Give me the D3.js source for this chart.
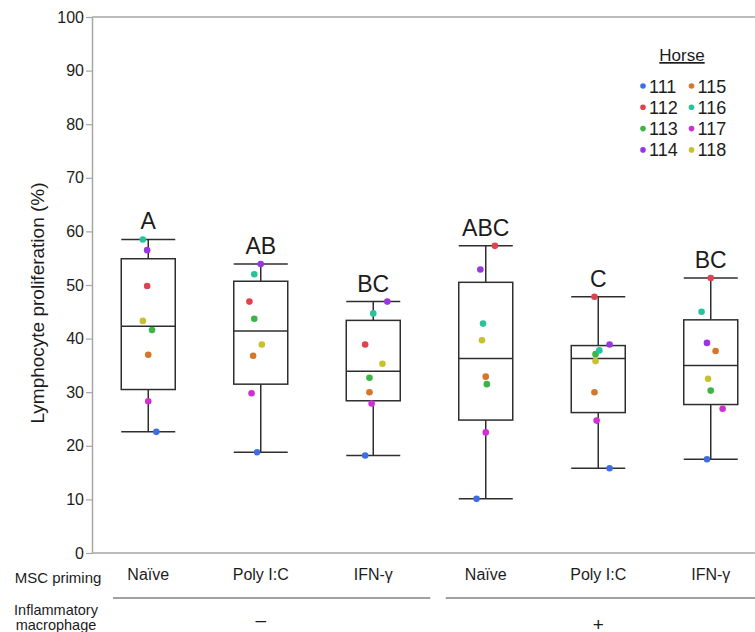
<!DOCTYPE html>
<html>
<head>
<meta charset="utf-8">
<script src="https://cdn.jsdelivr.net/npm/d3@7"></script>
<style>
  body { margin: 0; background: #fff; }
  svg { display: block; font-family: 'Liberation Sans', Arial, sans-serif; }
</style>
</head>
<body>
<div id="chart"></div>
<script>
// Data
const conditions = ['Naïve -', 'Poly I:C -', 'IFN-γ -', 'Naïve +', 'Poly I:C +', 'IFN-γ +']
const primingLabels = ['Naïve', 'Poly I:C', 'IFN-γ', 'Naïve', 'Poly I:C', 'IFN-γ']
const letters = ['A', 'AB', 'BC', 'ABC', 'C', 'BC']
const horses = ['111', '112', '113', '114', '115', '116', '117', '118']
const horseColors = ['#3e6fe2', '#e0434f', '#3db446', '#9a35e4', '#d5762b', '#27c39b', '#d12fd5', '#c8c12b']

// [min, q1, median, q3, max] per condition
const boxMin = [22.6, 18.8, 18.2, 10.1, 15.8, 17.5]
const boxQ1 = [30.5, 31.5, 28.4, 24.8, 26.2, 27.7]
const boxMedian = [42.3, 41.4, 33.9, 36.3, 36.3, 35.0]
const boxQ3 = [54.9, 50.7, 43.4, 50.5, 38.7, 43.5]
const boxMax = [58.5, 53.9, 46.9, 57.3, 47.8, 51.3]

// proliferation per horse (rows) for each condition (columns)
const horseValues = [
  [22.6, 18.8, 18.2, 10.1, 15.8, 17.5], // 111
  [49.8, 46.9, 38.9, 57.3, 47.8, 51.3], // 112
  [41.6, 43.7, 32.7, 31.5, 37.1, 30.3], // 113
  [56.5, 53.9, 46.9, 52.9, 38.9, 39.2], // 114
  [37.0, 36.8, 30.0, 32.9, 30.0, 37.7], // 115
  [58.5, 52.0, 44.7, 42.8, 37.8, 45.0], // 116
  [28.3, 29.8, 27.9, 22.5, 24.7, 26.9], // 117
  [43.3, 38.9, 35.3, 39.7, 35.8, 32.5]  // 118
]
// horizontal jitter as a fraction of box width
const jitter = [
  [0.15, -0.07, -0.15, -0.17, 0.21, -0.07],
  [-0.02, -0.21, -0.15, 0.17, -0.07, 0.0],
  [0.07, -0.12, -0.07, 0.02, -0.05, 0.0],
  [-0.02, 0.0, 0.26, -0.10, 0.21, -0.07],
  [0.0, -0.14, -0.07, 0.0, -0.07, 0.09],
  [-0.10, -0.12, 0.0, -0.05, 0.02, -0.17],
  [0.0, -0.17, -0.03, 0.0, -0.03, 0.22],
  [-0.10, 0.02, 0.17, -0.07, -0.05, -0.05]
]
const yTicks = [0, 10, 20, 30, 40, 50, 60, 70, 80, 90, 100]
const groups = [
  { label: '\u2013', members: [0, 1, 2] },
  { label: '+', members: [3, 4, 5] }
]

const width = 755
const height = 632
const plot = { left: 92, right: 767, top: 17, bottom: 553 }
const axisColor = '#a6a6a6'
const inkColor = '#1c1c1c'
const boxColor = '#2e2e2e'

const svg = d3.select('#chart')
  .append('svg')
    .attr('width', width)
    .attr('height', height)

const x = d3.scaleBand()
  .domain(conditions)
  .range([plot.left, plot.right])
  .paddingInner(0.52)
  .paddingOuter(0.26)

const y = d3.scaleLinear()
  .domain([0, 100])
  .range([plot.bottom, plot.top])

const bw = x.bandwidth()
const cx = i => x(conditions[i]) + bw / 2

// Frame lines (top + bottom), left axis
svg.append('line')
  .attr('x1', plot.left).attr('x2', plot.right)
  .attr('y1', plot.top).attr('y2', plot.top)
  .attr('stroke', axisColor).attr('stroke-width', 1.5)
svg.append('line')
  .attr('x1', plot.left).attr('x2', plot.right)
  .attr('y1', plot.bottom).attr('y2', plot.bottom)
  .attr('stroke', axisColor).attr('stroke-width', 1.5)

const yAxis = svg.append('g')
  .attr('transform', `translate(${plot.left},0)`)
  .call(d3.axisLeft(y).tickValues(yTicks).tickSize(6).tickPadding(2).tickSizeOuter(0))
yAxis.select('.domain').attr('stroke', axisColor).attr('stroke-width', 1.5)
yAxis.selectAll('.tick line').attr('stroke', axisColor).attr('stroke-width', 1.2)
yAxis.selectAll('.tick text')
  .attr('fill', inkColor)
  .attr('font-size', 16)
  .attr('font-family', "'Liberation Sans', Arial, sans-serif")

// Y title
svg.append('text')
  .attr('transform', `translate(44,${(plot.top + plot.bottom) / 2 + 18}) rotate(-90)`)
  .attr('text-anchor', 'middle')
  .attr('font-size', 19)
  .attr('fill', inkColor)
  .text('Lymphocyte proliferation (%)')

// Boxes
const boxes = svg.append('g')
conditions.forEach((c, i) => {
  const g = boxes.append('g')
  const left = x(c)
  const mid = cx(i)
  // whiskers
  g.append('line')
    .attr('x1', mid).attr('x2', mid)
    .attr('y1', y(boxMax[i])).attr('y2', y(boxQ3[i]))
    .attr('stroke', boxColor).attr('stroke-width', 1.5)
  g.append('line')
    .attr('x1', mid).attr('x2', mid)
    .attr('y1', y(boxQ1[i])).attr('y2', y(boxMin[i]))
    .attr('stroke', boxColor).attr('stroke-width', 1.5)
  // caps
  ;[boxMin[i], boxMax[i]].forEach(v => {
    g.append('line')
      .attr('x1', left).attr('x2', left + bw)
      .attr('y1', y(v)).attr('y2', y(v))
      .attr('stroke', boxColor).attr('stroke-width', 1.5)
  })
  g.append('rect')
    .attr('x', left)
    .attr('y', y(boxQ3[i]))
    .attr('width', bw)
    .attr('height', y(boxQ1[i]) - y(boxQ3[i]))
    .attr('fill', 'none')
    .attr('stroke', boxColor).attr('stroke-width', 1.5)
  g.append('line')
    .attr('x1', left).attr('x2', left + bw)
    .attr('y1', y(boxMedian[i])).attr('y2', y(boxMedian[i]))
    .attr('stroke', boxColor).attr('stroke-width', 1.5)
  // significance letter
  g.append('text')
    .attr('x', mid)
    .attr('y', y(boxMax[i]) - 10)
    .attr('text-anchor', 'middle')
    .attr('font-size', 23)
    .attr('fill', inkColor)
    .text(letters[i])
})

// Points
const points = svg.append('g')
horses.forEach((h, j) => {
  points.selectAll(null)
    .data(horseValues[j])
    .enter()
    .append('circle')
      .attr('cx', (d, i) => cx(i) + jitter[j][i] * bw)
      .attr('cy', d => y(d))
      .attr('r', 3.3)
      .attr('fill', horseColors[j])
})

// Legend
const legend = svg.append('g')
legend.append('text')
  .attr('x', 682)
  .attr('y', 61)
  .attr('text-anchor', 'middle')
  .attr('font-size', 17)
  .attr('fill', inkColor)
  .attr('text-decoration', 'underline')
  .text('Horse')
horses.forEach((h, j) => {
  const col = Math.floor(j / 4)
  const row = j % 4
  const lx = 643 + col * 48.5
  const ly = 86 + row * 21.3
  legend.append('circle')
    .attr('cx', lx).attr('cy', ly).attr('r', 2.8)
    .attr('fill', horseColors[j])
  legend.append('text')
    .attr('x', lx + 6)
    .attr('y', ly + 6.5)
    .attr('font-size', 18)
    .attr('fill', inkColor)
    .text(h)
})

// Bottom table
svg.append('text')
  .attr('x', 58).attr('y', 583)
  .attr('text-anchor', 'middle')
  .attr('font-size', 15)
  .attr('fill', inkColor)
  .text('MSC priming')

svg.selectAll('.prime')
  .data(primingLabels)
  .enter()
  .append('text')
    .attr('class', 'prime')
    .attr('x', (d, i) => cx(i))
    .attr('y', 580)
    .attr('text-anchor', 'middle')
    .attr('font-size', 16)
    .attr('fill', inkColor)
    .text(d => d)

svg.append('text')
  .attr('x', 56).attr('y', 615)
  .attr('text-anchor', 'middle')
  .attr('font-size', 14.5)
  .attr('fill', inkColor)
  .text('Inflammatory')
svg.append('text')
  .attr('x', 56).attr('y', 630)
  .attr('text-anchor', 'middle')
  .attr('font-size', 14.5)
  .attr('fill', inkColor)
  .text('macrophage')

groups.forEach((gr, k) => {
  const first = gr.members[0]
  const last = gr.members[gr.members.length - 1]
  const x1 = k === 0 ? 113 : x(conditions[first]) - 13
  const x2 = k === 0 ? x(conditions[last]) + bw + 30 : width
  svg.append('line')
    .attr('x1', x1).attr('x2', x2)
    .attr('y1', 598).attr('y2', 598)
    .attr('stroke', '#444').attr('stroke-width', 1.2)
  svg.append('text')
    .attr('x', (cx(first) + cx(last)) / 2)
    .attr('y', k === 0 ? 626 : 631)
    .attr('text-anchor', 'middle')
    .attr('font-size', 19)
    .attr('fill', inkColor)
    .text(gr.label)
})
</script>
</body>
</html>
